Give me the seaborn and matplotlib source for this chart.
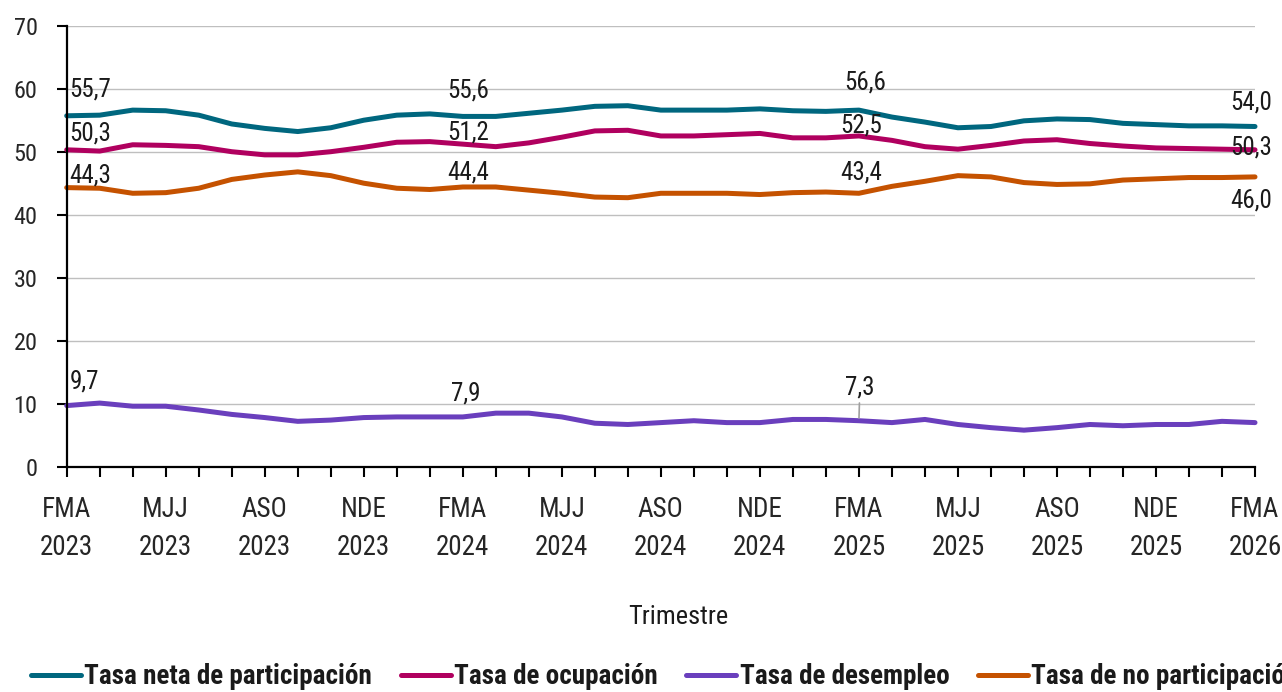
import matplotlib
matplotlib.use("Agg")
import matplotlib.pyplot as plt
from matplotlib import font_manager as fm
import seaborn as sns
import pandas as pd
import numpy as np

# ---------------- data ----------------
periodos = [
    "FMA\n2023", "MAM\n2023", "AMJ\n2023", "MJJ\n2023", "JJA\n2023", "JAS\n2023",
    "ASO\n2023", "SON\n2023", "OND\n2023", "NDE\n2023", "DEF\n2024", "EFM\n2024",
    "FMA\n2024", "MAM\n2024", "AMJ\n2024", "MJJ\n2024", "JJA\n2024", "JAS\n2024",
    "ASO\n2024", "SON\n2024", "OND\n2024", "NDE\n2024", "DEF\n2025", "EFM\n2025",
    "FMA\n2025", "MAM\n2025", "AMJ\n2025", "MJJ\n2025", "JJA\n2025", "JAS\n2025",
    "ASO\n2025", "SON\n2025", "OND\n2025", "NDE\n2025", "DEF\n2026", "EFM\n2026",
    "FMA\n2026",
]
tasa_participacion = [55.7, 55.8, 56.6, 56.5, 55.8, 54.4, 53.7, 53.2, 53.8, 55.0, 55.8, 56.0,
                      55.6, 55.6, 56.1, 56.6, 57.2, 57.3, 56.6, 56.6, 56.6, 56.8, 56.5, 56.4,
                      56.6, 55.5, 54.7, 53.8, 54.0, 54.9, 55.2, 55.1, 54.5, 54.3, 54.1, 54.1,
                      54.0]
tasa_ocupacion = [50.3, 50.1, 51.1, 51.0, 50.8, 50.0, 49.5, 49.5, 50.0, 50.7, 51.5, 51.6,
                  51.2, 50.8, 51.4, 52.3, 53.3, 53.4, 52.5, 52.5, 52.7, 52.9, 52.2, 52.2,
                  52.5, 51.8, 50.8, 50.4, 51.0, 51.7, 51.9, 51.3, 50.9, 50.6, 50.5, 50.4,
                  50.3]
tasa_desempleo = [9.7, 10.1, 9.6, 9.6, 9.0, 8.3, 7.8, 7.2, 7.4, 7.8, 7.9, 7.9,
                  7.9, 8.5, 8.5, 7.9, 6.9, 6.7, 7.0, 7.3, 7.0, 7.0, 7.5, 7.5,
                  7.3, 7.0, 7.5, 6.7, 6.2, 5.8, 6.2, 6.7, 6.5, 6.7, 6.7, 7.2,
                  7.0]
tasa_no_participacion = [44.3, 44.2, 43.4, 43.5, 44.2, 45.6, 46.3, 46.8, 46.2, 45.0, 44.2, 44.0,
                         44.4, 44.4, 43.9, 43.4, 42.8, 42.7, 43.4, 43.4, 43.4, 43.2, 43.5, 43.6,
                         43.4, 44.5, 45.3, 46.2, 46.0, 45.1, 44.8, 44.9, 45.5, 45.7, 45.9, 45.9,
                         46.0]

series_nombres = ["Tasa neta de participación", "Tasa de ocupación",
                  "Tasa de desempleo", "Tasa de no participación"]
series_valores = [tasa_participacion, tasa_ocupacion, tasa_desempleo, tasa_no_participacion]
colores = ["#00677F", "#B0005F", "#6A3FBD", "#C55200"]

# ---------------- long table ----------------
rows = []
for nombre, vals in zip(series_nombres, series_valores):
    for i, v in enumerate(vals):
        rows.append({"idx": i, "valor": v, "serie": nombre})
df = pd.DataFrame(rows)

sns.set_theme(style="white")

# ---- pick a condensed font if one is available ----
ttf = fm.fontManager.ttflist
names = {f.name for f in ttf}
pref_named = ["Liberation Sans Narrow", "Roboto Condensed", "Open Sans Condensed",
              "Noto Sans Condensed", "DejaVu Sans Condensed", "Noto Sans SemiCondensed",
              "Open Sans SemiCondensed"]
chosen = next((p for p in pref_named if p in names), None)
stretch = "normal"
size_scale = 1.0
if chosen is None:
    def is_cond(f):
        s = f.stretch
        if isinstance(s, str):
            return "condensed" in s
        return s < 500
    cond_fams = {f.name for f in ttf if is_cond(f)}
    for p in ["Noto Sans", "Open Sans", "Roboto", "DejaVu Sans", "Liberation Sans"]:
        if p in cond_fams:
            chosen = p
            stretch = "condensed"
            break
if chosen is None:
    chosen = "Roboto" if "Roboto" in names else "Liberation Sans"
    size_scale = 0.88

plt.rcParams["font.family"] = [chosen, "DejaVu Sans"]
plt.rcParams["font.stretch"] = stretch
plt.rcParams["text.color"] = "#1a1a1a"

def fs(x):
    return x * size_scale

W, H = 1282, 692
fig = plt.figure(figsize=(W / 100, H / 100), dpi=100)
ax = fig.add_axes([66.7 / W, 1 - 466.7 / H, (1255 - 66.7) / W, (466.7 - 25.7) / H])

sns.lineplot(data=df, x="idx", y="valor", hue="serie", hue_order=series_nombres,
             palette=colores, linewidth=3.6, ax=ax, legend=False)
for ln in ax.lines:
    ln.set_solid_capstyle("round")
    ln.set_solid_joinstyle("round")
    ln.set_clip_on(False)

ax.set_xlim(0, 36)
ax.set_ylim(0, 70)
ax.set_yticks(np.arange(0, 71, 10))
ax.yaxis.grid(True, color="#BFBFBF", linewidth=1.0)
ax.xaxis.grid(False)
ax.set_axisbelow(True)

ax.set_xticks(range(len(periodos)))
ax.set_xticklabels([p if i % 3 == 0 else "" for i, p in enumerate(periodos)],
                   fontsize=fs(19.5), linespacing=1.55)
ax.tick_params(axis="y", labelsize=fs(17.5), length=7, width=1.5, color="black",
               direction="out", pad=14, left=True)
ax.tick_params(axis="x", length=7, width=1.5, color="black",
               direction="out", pad=14, bottom=True)
for s in ["top", "right"]:
    ax.spines[s].set_visible(False)
for s in ["left", "bottom"]:
    ax.spines[s].set_color("black")
    ax.spines[s].set_linewidth(1.6)
ax.set_xlabel("")
ax.set_ylabel("")

# ---------------- data labels ----------------
def lab(i, vals, dx, dy, ha="center", leader=False):
    v = vals[i]
    txt = f"{v:.1f}".replace(".", ",")
    kw = {}
    if leader:
        kw["arrowprops"] = dict(arrowstyle="-", color="#A0A0A0", lw=1.2,
                                shrinkA=0, shrinkB=2)
    ax.annotate(txt, xy=(i, v), xytext=(dx, dy), textcoords="offset pixels",
                ha=ha, va="center", fontsize=fs(18), color="#1a1a1a",
                annotation_clip=False, **kw)

lab(0, tasa_participacion, 3, 26, ha="left")
lab(0, tasa_ocupacion, 3, 16, ha="left")
lab(0, tasa_no_participacion, 3, 12, ha="left")
lab(0, tasa_desempleo, 3, 24, ha="left")
lab(12, tasa_participacion, 5, 26)
lab(12, tasa_ocupacion, 5, 12)
lab(12, tasa_no_participacion, 5, 14)
lab(12, tasa_desempleo, 3, 23)
lab(24, tasa_participacion, 6, 28)
lab(24, tasa_ocupacion, 2, 10)
lab(24, tasa_no_participacion, 2, 21)
lab(24, tasa_desempleo, 1, 33, leader=True)
lab(36, tasa_participacion, -4, 24)
lab(36, tasa_ocupacion, -4, 2)
lab(36, tasa_no_participacion, -4, -24)

fig.text(678 / W, 1 - 617 / H, "Trimestre", ha="center", va="center", fontsize=fs(19))

handles = ax.lines[:4]
fig.legend(handles, series_nombres, loc="center left",
           bbox_to_anchor=(31 / W, 1 - 677 / H), ncol=4, frameon=False,
           prop={"weight": "bold", "size": fs(19.5), "stretch": stretch},
           handlelength=1.85, handletextpad=0.12, columnspacing=1.05,
           borderpad=0, borderaxespad=0)

fig.savefig("out.png", dpi=100)
